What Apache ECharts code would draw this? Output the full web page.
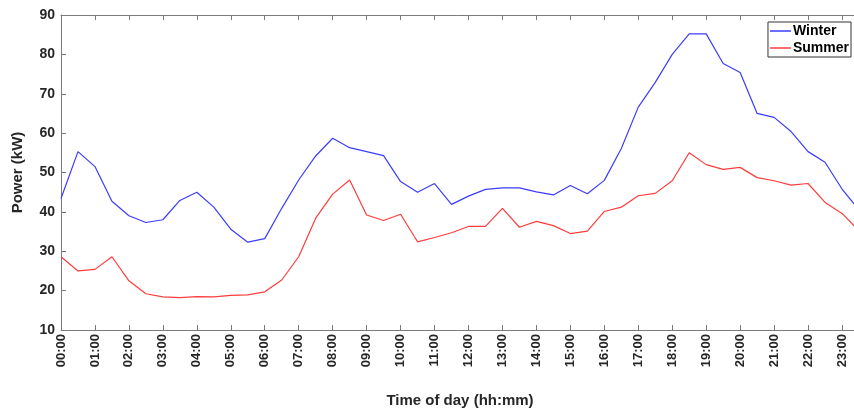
<!DOCTYPE html>
<html>
<head>
<meta charset="utf-8">
<script src="https://cdn.jsdelivr.net/npm/echarts@6/dist/echarts.min.js"></script>
<style>
  html, body { margin: 0; padding: 0; background: #fff; }
  #chart { width: 854px; height: 408px; }
</style>
</head>
<body>
<div id="chart"></div>
<script>
// half-hour time stamps
var times = [
    '00:00', '00:30', '01:00', '01:30', '02:00', '02:30', '03:00', '03:30',
    '04:00', '04:30', '05:00', '05:30', '06:00', '06:30', '07:00', '07:30',
    '08:00', '08:30', '09:00', '09:30', '10:00', '10:30', '11:00', '11:30',
    '12:00', '12:30', '13:00', '13:30', '14:00', '14:30', '15:00', '15:30',
    '16:00', '16:30', '17:00', '17:30', '18:00', '18:30', '19:00', '19:30',
    '20:00', '20:30', '21:00', '21:30', '22:00', '22:30', '23:00', '23:30'
];

// power (kW)
var winter = [
    43.4, 55.3, 51.5, 42.7, 39.0, 37.3, 38.0, 42.9,
    45.0, 41.2, 35.6, 32.3, 33.2, 40.9, 48.1, 54.2,
    58.7, 56.3, 55.3, 54.3, 47.7, 45.0, 47.2, 41.9,
    44.0, 45.7, 46.1, 46.1, 45.1, 44.3, 46.7, 44.6,
    48.0, 56.1, 66.6, 72.9, 80.0, 85.2, 85.2, 77.7,
    75.4, 65.0, 64.0, 60.4, 55.3, 52.6, 45.8, 40.5
];
var summer = [
    28.6, 25.0, 25.4, 28.6, 22.5, 19.2, 18.4, 18.2,
    18.5, 18.4, 18.8, 18.9, 19.7, 22.7, 28.6, 38.4,
    44.5, 48.1, 39.2, 37.8, 39.4, 32.4, 33.5, 34.7,
    36.3, 36.3, 40.9, 36.1, 37.6, 36.5, 34.5, 35.1,
    40.1, 41.2, 44.1, 44.7, 47.9, 55.0, 52.0, 50.8,
    51.3, 48.7, 47.9, 46.8, 47.2, 42.4, 39.6, 35.2
];

var yMin = 10, yMax = 90, yStep = 10;

var axisColor = '#7a7a7a';
var textColor = '#262626';
var font = 'Liberation Sans';

var chart = echarts.init(document.getElementById('chart'));

chart.setOption({
    animation: false,
    backgroundColor: '#fff',
    textStyle: { fontFamily: font },
    // plot runs a little past the right edge: 23:30 is cut off like in the source image
    grid: { left: 61, right: -5, top: 15, bottom: 78, outerBoundsMode: 'none', containLabel: false },
    legend: {
        data: ['Winter', 'Summer'],
        orient: 'vertical',
        right: 3,
        top: 22,
        icon: 'rect',
        itemWidth: 21,
        itemHeight: 1.5,
        itemGap: 3,
        padding: [2, 2, 2, 2],
        borderColor: '#333',
        borderWidth: 1,
        backgroundColor: '#fff',
        textStyle: { fontFamily: font, fontWeight: 'bold', fontSize: 14, color: '#000', padding: [0, 0, 0, -3] }
    },
    xAxis: [{
        type: 'category',
        data: times,
        boundaryGap: false,
        name: 'Time of day (hh:mm)',
        nameLocation: 'middle',
        nameGap: 63,
        nameTextStyle: { fontFamily: font, fontWeight: 'bold', fontSize: 15, color: textColor },
        axisLine: { lineStyle: { color: axisColor, width: 1 } },
        axisTick: { inside: true, length: 5, interval: 1, lineStyle: { color: axisColor } },
        axisLabel: { interval: 1, rotate: 90, margin: 4, fontFamily: font, fontWeight: 'bold', fontSize: 13, color: textColor },
        splitLine: { show: false }
    }, {
        type: 'category',
        data: times,
        boundaryGap: false,
        position: 'top',
        axisLine: { lineStyle: { color: axisColor, width: 1 } },
        axisTick: { inside: true, length: 5, interval: 1, lineStyle: { color: axisColor } },
        axisLabel: { show: false },
        splitLine: { show: false }
    }],
    yAxis: [{
        type: 'value',
        min: yMin,
        max: yMax,
        interval: yStep,
        name: 'Power (kW)',
        nameLocation: 'middle',
        nameGap: 36,
        nameTextStyle: { fontFamily: font, fontWeight: 'bold', fontSize: 15, color: textColor },
        axisLine: { show: true, lineStyle: { color: axisColor, width: 1 } },
        axisTick: { show: true, inside: true, length: 5, lineStyle: { color: axisColor } },
        axisLabel: { margin: 6, fontFamily: font, fontWeight: 'bold', fontSize: 14, color: textColor },
        splitLine: { show: false }
    }, {
        type: 'value',
        min: yMin,
        max: yMax,
        interval: yStep,
        position: 'right',
        axisLine: { show: true, lineStyle: { color: axisColor, width: 1 } },
        axisTick: { show: true, inside: true, length: 5, lineStyle: { color: axisColor } },
        axisLabel: { show: false },
        splitLine: { show: false }
    }],
    series: [{
        name: 'Winter',
        type: 'line',
        data: winter,
        showSymbol: false,
        color: '#3c3cff',
        lineStyle: { width: 1.2 }
    }, {
        name: 'Summer',
        type: 'line',
        data: summer,
        showSymbol: false,
        color: '#ff3c3c',
        lineStyle: { width: 1.2 }
    }]
});
</script>
</body>
</html>
